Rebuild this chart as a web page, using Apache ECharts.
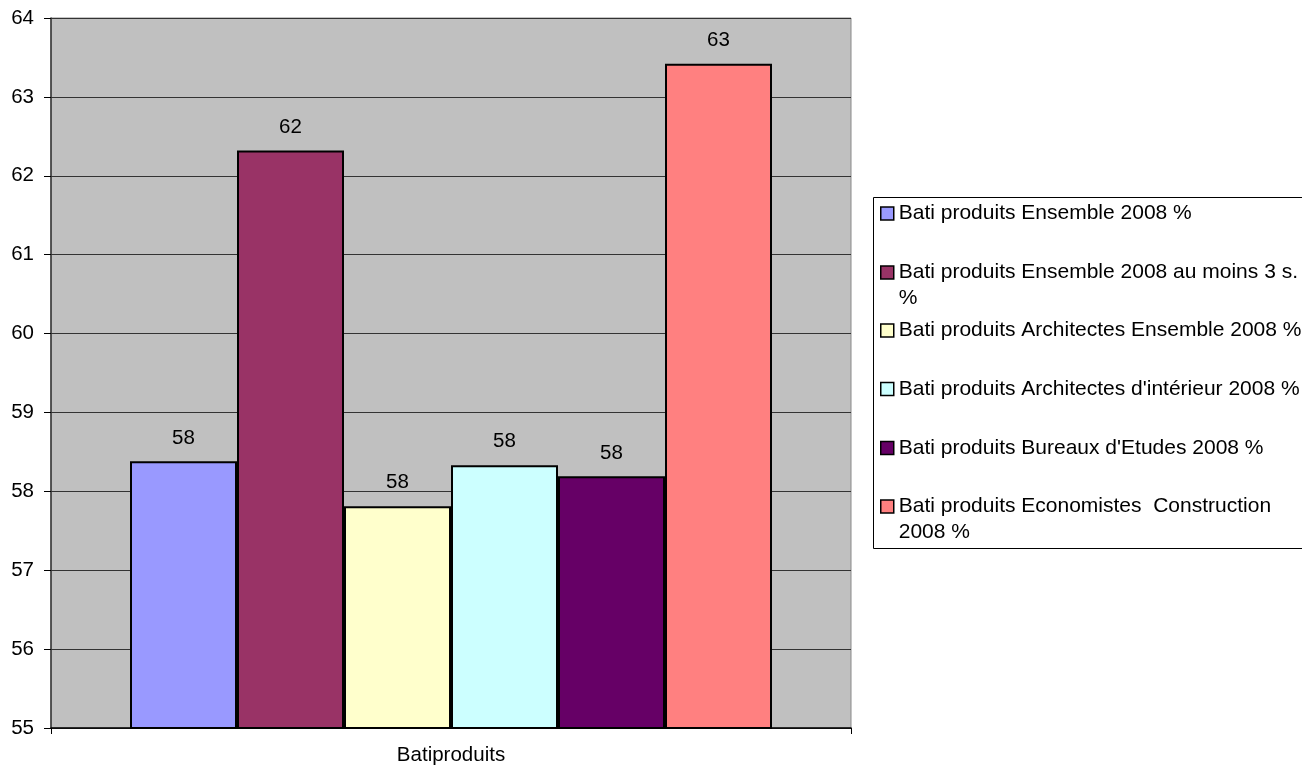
<!DOCTYPE html>
<html>
<head>
<meta charset="utf-8">
<script src="https://cdn.jsdelivr.net/npm/echarts@6/dist/echarts.min.js"></script>
<style>
html,body{margin:0;padding:0;background:#fff;}
#c{width:1302px;height:769px;}
</style>
</head>
<body>
<div id="c"></div>
<script>
const categories = ['Batiproduits'];
const seriesNames = [
  'Bati produits Ensemble 2008 %',
  'Bati produits Ensemble 2008 au moins 3 s. %',
  'Bati produits Architectes Ensemble 2008 %',
  "Bati produits Architectes d'intérieur 2008 %",
  "Bati produits Bureaux d'Etudes 2008 %",
  'Bati produits Economistes  Construction 2008 %'
];
const legendLabels = [
  'Bati produits Ensemble 2008 %',
  'Bati produits Ensemble 2008 au moins 3 s.\n%',
  'Bati produits Architectes Ensemble 2008 %',
  "Bati produits Architectes d'intérieur 2008 %",
  "Bati produits Bureaux d'Etudes 2008 %",
  'Bati produits Economistes  Construction\n2008 %'
];
const seriesValues = [
  [58.38],
  [62.32],
  [57.81],
  [58.33],
  [58.19],
  [63.42]
];
const colors = ['#9999FF', '#993366', '#FFFFCC', '#CCFFFF', '#660066', '#FF8080'];
const yTicks = { min: 55, max: 64, interval: 1 };

const FONT = "'Liberation Sans', Arial, sans-serif";
const iconCenters = [213.5, 272.5, 330.5, 389, 448, 506.5];

const legends = seriesNames.map((n, i) => {
  const twoLine = legendLabels[i].indexOf('\n') >= 0;
  return {
    data: [n],
    left: 880,
    top: twoLine ? iconCenters[i] - 39 : iconCenters[i] - 13,
    padding: 0,
    orient: 'vertical',
    icon: 'rect',
    itemWidth: 13,
    itemHeight: 13,
    selectedMode: false,
    itemStyle: { borderColor: '#000', borderWidth: 1.5 },
    formatter: () => twoLine ? '{s| }\n' + legendLabels[i] : legendLabels[i],
    textStyle: {
      fontFamily: FONT, fontSize: 21, color: '#000', lineHeight: 26,
      rich: { s: { fontFamily: FONT, fontSize: 21, lineHeight: 26 } }
    }
  };
});

const chart = echarts.init(document.getElementById('c'), null, { renderer: 'canvas' });
chart.setOption({
  animation: false,
  backgroundColor: '#fff',
  color: colors,
  graphic: [{
    type: 'rect', z: 0,
    shape: { x: 873.5, y: 197.5, width: 440, height: 351 },
    style: { fill: '#fff', stroke: '#000', lineWidth: 1 }
  }],
  legend: legends,
  grid: {
    left: 51, top: 18, width: 800, height: 710,
    show: true, backgroundColor: '#C0C0C0', borderColor: '#8a8a8a', borderWidth: 1
  },
  xAxis: {
    type: 'category',
    data: categories,
    axisLine: { lineStyle: { color: '#000', width: 1.5 } },
    axisTick: { show: true, length: 6, lineStyle: { color: '#000' } },
    axisLabel: { fontFamily: FONT, fontSize: 20.5, color: '#000', margin: 17 }
  },
  yAxis: {
    type: 'value',
    min: yTicks.min, max: yTicks.max, interval: yTicks.interval,
    axisLine: { show: true, lineStyle: { color: '#333', width: 1.5 } },
    axisTick: { show: true, length: 7, lineStyle: { color: '#000' } },
    axisLabel: { fontFamily: FONT, fontSize: 20.5, color: '#000', margin: 17 },
    splitLine: { show: true, lineStyle: { color: '#333', width: 1 } }
  },
  series: seriesNames.map((n, i) => ({
    type: 'bar',
    name: n,
    data: seriesValues[i],
    barWidth: 107,
    barGap: '0%',
    itemStyle: { color: colors[i], borderColor: '#000', borderWidth: 2 },
    label: {
      show: true, position: 'top', distance: 13,
      fontFamily: FONT, fontSize: 20.5, color: '#000',
      formatter: p => String(Math.round(p.value))
    }
  }))
});
</script>
</body>
</html>
